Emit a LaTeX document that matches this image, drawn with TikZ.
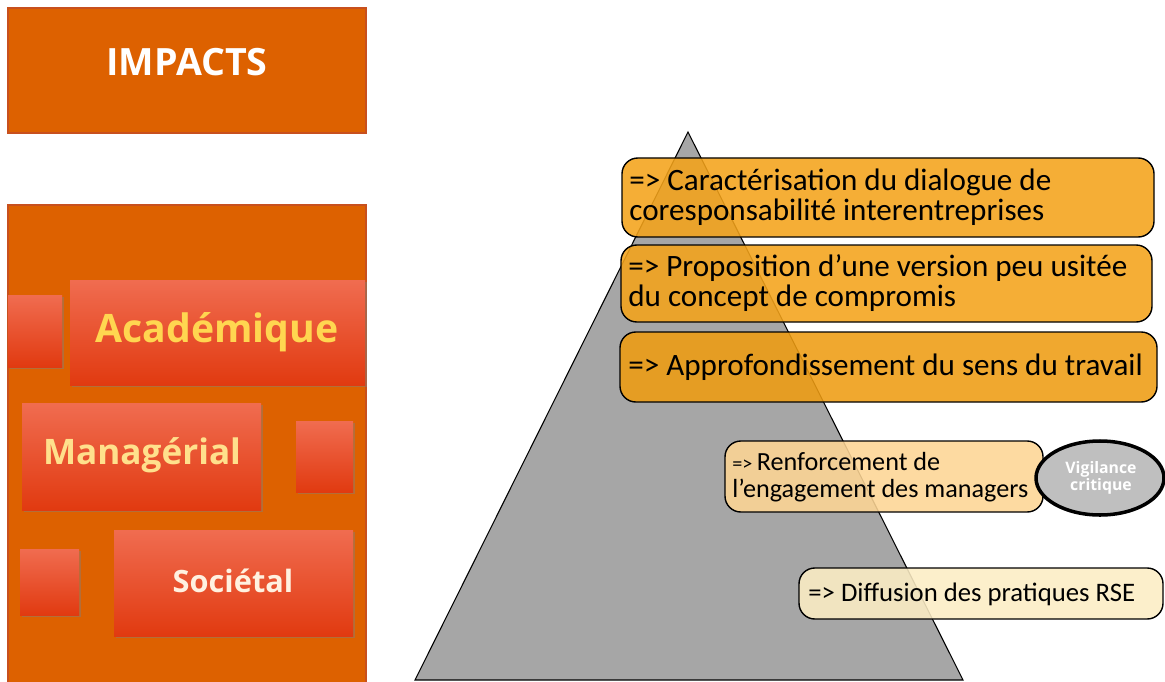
\documentclass[tikz,border=0pt]{standalone}
\usepackage{fontspec}
\setmainfont{Carlito}
\newfontfamily\boldsans{Open Sans}
\usetikzlibrary{shadows}
\definecolor{impactorange}{HTML}{DD6100}
\definecolor{impactline}{HTML}{C8501E}
\definecolor{tiletop}{HTML}{F06C50}
\definecolor{tilebottom}{HTML}{E13A10}
\definecolor{gold}{HTML}{FFD650}
\definecolor{paleyellow}{HTML}{FFE08C}
\definecolor{cream}{HTML}{FFF1E0}
\definecolor{pyramidgrey}{HTML}{A6A6A6}
\definecolor{levelone}{HTML}{F4A31A}
\definecolor{levelthree}{HTML}{EE9C12}
\definecolor{levelfour}{HTML}{FDD594}
\definecolor{levelfive}{HTML}{FCEDC4}
\definecolor{vigilgrey}{HTML}{BFBFBF}
\tikzset{
  panel/.style={fill=impactorange, draw=impactline, line width=0.6pt},
  tile/.style={top color=tiletop, bottom color=tilebottom,
    drop shadow={shadow xshift=1.2pt, shadow yshift=-1.2pt, opacity=0.45}},
  tilelabel/.style={font=\boldsans\bfseries, inner sep=0pt},
  level/.style={draw=black, line width=0.8pt, rounded corners=9pt, fill opacity=0.88},
  leveltext/.style={anchor=west, align=left, inner sep=0pt, text=black}
}
\begin{document}
\begin{tikzpicture}[x=0.02cm, y=-0.02cm]
  \useasboundingbox (0,0) rectangle (1165,682);
  % left column
  \draw[panel] (8,8) rectangle (366,133);
  \node[tilelabel, text=white, font=\boldsans\bfseries\fontsize{21.4}{24}\selectfont] (impacts) at (187,62) {IMPACTS};
  \draw[panel] (8,205) rectangle (366,690);
  \shade[tile] (70,280) rectangle (365,385);
  \shade[tile] (8,295) rectangle (62,367);
  \shade[tile] (22,403) rectangle (261,510);
  \shade[tile] (296,421) rectangle (353,492);
  \shade[tile] (114,530) rectangle (353,636);
  \shade[tile] (20,549) rectangle (79,615);
  \node[tilelabel, text=gold, font=\boldsans\bfseries\fontsize{22.3}{26}\selectfont] (academique) at (217,332) {Académique};
  \node[tilelabel, text=paleyellow, font=\boldsans\bfseries\fontsize{20}{24}\selectfont] (managerial) at (142,455) {Managérial};
  \node[tilelabel, text=cream, font=\boldsans\bfseries\fontsize{17.5}{20}\selectfont] (societal) at (233,581) {Sociétal};
  % pyramid
  \draw[fill=pyramidgrey, line width=0.6pt] (688,132) -- (963,680) -- (415,680) -- cycle;
  % levels
  \draw[level, fill=levelone] (622,158) rectangle (1154,237);
  \node[leveltext, font=\fontsize{17.7}{17.2}\selectfont] (dialogue) at (629,197) {=> Caractérisation du dialogue de\\coresponsabilité interentreprises};
  \draw[level, fill=levelone] (621,245) rectangle (1152,322);
  \node[leveltext, font=\fontsize{17.7}{17.2}\selectfont] (compromis) at (628,283) {=> Proposition d’une version peu usitée\\du concept de compromis};
  \draw[level, fill=levelthree] (620,332) rectangle (1157,402);
  \node[leveltext, font=\fontsize{17.7}{17.2}\selectfont] (travail) at (628,367) {=> Approfondissement du sens du travail};
  \draw[level, fill=levelfour] (725,441) rectangle (1043,512);
  \node[leveltext, font=\fontsize{14.9}{15.4}\selectfont] (managers) at (732,477) {{\fontsize{11.5}{12}\selectfont=>}\,Renforcement de\\l’engagement des managers};
  \draw[fill=vigilgrey, line width=2pt] (1100,478) ellipse [x radius=64, y radius=37];
  \node[align=center, text=white, font=\boldsans\bfseries\fontsize{9}{10}\selectfont] (vigilance) at (1101,478) {Vigilance\\critique};
  \draw[level, fill=levelfive] (799,568) rectangle (1163,619);
  \node[leveltext, font=\fontsize{15.2}{17}\selectfont] (rse) at (808,594) {=> Diffusion des pratiques RSE};
\end{tikzpicture}
\end{document}
